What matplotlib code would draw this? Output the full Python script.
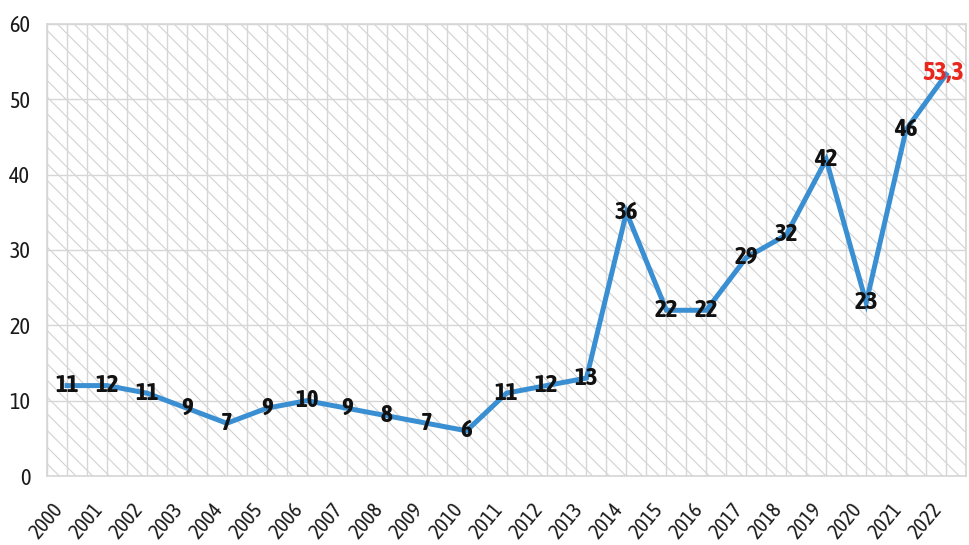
import numpy as np
import matplotlib
matplotlib.use("Agg")
import matplotlib.pyplot as plt
from matplotlib.patches import Rectangle

plt.rcParams['font.family'] = ['Asap Condensed', 'DejaVu Sans']
plt.rcParams['hatch.linewidth'] = 0.8

years = list(range(2000, 2023))
values = [12, 12, 11, 9, 7, 9, 10, 9, 8, 7, 6, 11, 12, 13, 35, 22, 22, 29, 32, 42, 23, 46, 53.3]
point_labels = ["11", "12", "11", "9", "7", "9", "10", "9", "8", "7", "6", "11", "12", "13",
                "36", "22", "22", "29", "32", "42", "23", "46", "53,3"]

fig = plt.figure(figsize=(9.69, 5.45), dpi=100)
ax = fig.add_axes([0.0485, 0.1266, 0.9485, 0.8294])

# hatched background
bg = Rectangle((0, 0), 1, 1, transform=ax.transAxes, facecolor='white',
               edgecolor='#d2d2d2', linewidth=0, hatch='\\\\', zorder=0)
ax.add_patch(bg)

ax.set_xlim(1999.5, 2022.5)
ax.set_ylim(0, 60)

ax.set_xticks(years)
ax.set_xticklabels([str(y) for y in years], rotation=50, ha='right', va='top',
                   fontsize=15, color='#1a1a1a')
ax.set_xticks(np.arange(1999.5, 2023, 0.5), minor=True)
ax.set_yticks(np.arange(0, 61, 10))
ax.set_yticklabels([str(v) for v in range(0, 61, 10)], fontsize=16, color='#1a1a1a')
ax.tick_params(axis='both', which='both', length=0)
ax.tick_params(axis='x', pad=17)
ax.tick_params(axis='y', pad=12)

ax.grid(True, which='both', axis='x', color='#d6d6d6', linewidth=1, zorder=1)
ax.grid(True, which='major', axis='y', color='#d6d6d6', linewidth=1, zorder=1)
ax.set_axisbelow(True)
for s in ax.spines.values():
    s.set_color('#d6d6d6')
    s.set_linewidth(1.2)

ax.plot(years, values, color='#3a8fd2', linewidth=3.6, solid_joinstyle='miter', zorder=3)

for i, (x, y, t) in enumerate(zip(years, values, point_labels)):
    if i == len(years) - 1:
        ax.text(x - 0.08, y + 0.2, t, ha='center', va='center', fontsize=19,
                fontweight='bold', color='#e8281e', zorder=4)
    else:
        ax.text(x, y, t, ha='center', va='center', fontsize=18, fontweight='bold',
                color='#111111', zorder=4)

fig.savefig("out.png", dpi=100)
